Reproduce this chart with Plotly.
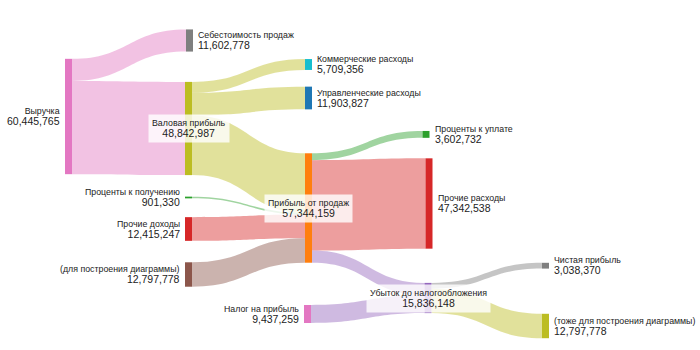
import plotly.graph_objects as go

# ---- data ----
node_labels = [
    "Выручка", "Себестоимость продаж", "Валовая прибыль",
    "Коммерческие расходы", "Управленческие расходы",
    "Проценты к получению", "Прочие доходы", "(для построения диаграммы)",
    "Прибыль от продаж", "Проценты к уплате", "Прочие расходы",
    "Убыток до налогообложения", "Налог на прибыль", "Чистая прибыль",
    "(тоже для построения диаграммы)",
]
link_source = [0, 0, 2, 2, 2, 5, 6, 7, 8, 8, 8, 12, 11, 11]
link_target = [1, 2, 3, 4, 8, 8, 8, 8, 9, 10, 11, 11, 13, 14]
link_values = [11602778, 48842987, 5709356, 11903827, 31229804, 901330,
               12415247, 12797778, 3602732, 47342538, 6398889, 9437259,
               3038370, 12797778]

# ---- styling / layout ----
node_colors = ["#e377c2", "#7f7f7f", "#bcbd22", "#17becf", "#1f77b4",
               "#2ca02c", "#d62728", "#8c564b", "#ff7f0e", "#2ca02c",
               "#d62728", "#9467bd", "#e377c2", "#7f7f7f", "#bcbd22"]
# node index whose colour each link takes
link_color_node = [0, 0, 2, 2, 2, 5, 6, 7, 9, 10, 11, 11, 13, 14]
W, H = 700, 350
node_px_x = [68.5, 189.5, 188.5, 308.5, 308.5, 188.5, 188.5, 188.5, 308.5,
             426, 429, 428, 307.5, 545.5, 545.5]
node_px_y = [116.5, 40.5, 128.5, 64.5, 98, 197.5, 229, 274.5, 208,
             134.4, 203.5, 298, 314, 265.7, 326]
THICK = 7


def rgba(hx, a):
    hx = hx.lstrip("#")
    r, g, b = int(hx[0:2], 16), int(hx[2:4], 16), int(hx[4:6], 16)
    return f"rgba({r},{g},{b},{a})"


link_colors = [rgba(node_colors[i], 0.45) for i in link_color_node]

nx = [p / W for p in node_px_x]
ny = [p / H for p in node_px_y]

n = len(node_labels)
in_sum = [0] * n
out_sum = [0] * n
for s, t, v in zip(link_source, link_target, link_values):
    out_sum[s] += v
    in_sum[t] += v
node_values = [max(a, b) for a, b in zip(in_sum, out_sum)]

fig = go.Figure(go.Sankey(
    arrangement="fixed",
    domain=dict(x=[0, 1], y=[0, 1]),
    node=dict(
        label=["" for _ in node_labels],
        customdata=node_labels,
        hovertemplate="%{customdata}<br>%{value:,}<extra></extra>",
        color=node_colors,
        x=nx, y=ny,
        pad=27.8,
        thickness=THICK,
        line=dict(width=0),
    ),
    link=dict(
        source=link_source,
        target=link_target,
        value=link_values,
        color=link_colors,
    ),
))

FONT = "Liberation Sans, Arial, sans-serif"
annotations = []
for i in range(n):
    text = (f"{node_labels[i]}<br>"
            f"<span style='font-size:10.5px'>{node_values[i]:,}</span>")
    base = dict(x=nx[i], y=1 - ny[i], xref="paper", yref="paper",
                text=text, showarrow=False, yanchor="middle",
                font=dict(family=FONT, size=8.8, color="#222"))
    if in_sum[i] == 0:
        base.update(xanchor="right", align="right", xshift=-(THICK / 2 + 3))
    elif out_sum[i] == 0:
        base.update(xanchor="left", align="left", xshift=THICK / 2 + 3)
    else:
        base.update(xanchor="center", align="center",
                    bgcolor="rgba(255,255,255,0.8)", borderpad=3)
    annotations.append(base)

fig.update_layout(
    width=W, height=H,
    margin=dict(l=0, r=0, t=0, b=0),
    paper_bgcolor="white",
    font=dict(family=FONT),
    annotations=annotations,
)

fig.write_html("out.html")
